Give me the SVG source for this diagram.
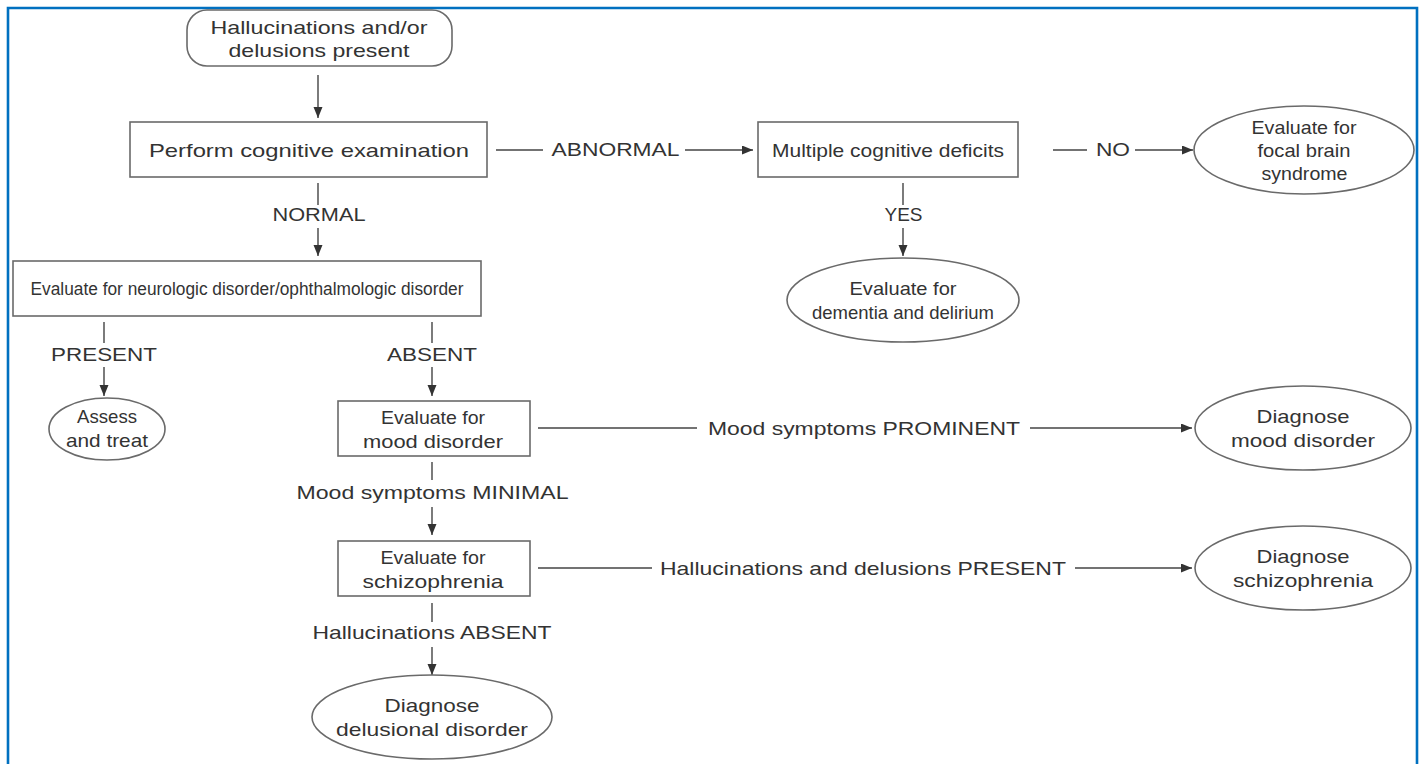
<svg xmlns="http://www.w3.org/2000/svg" width="1425" height="764" viewBox="0 0 1425 764">
<style>
.box{fill:#fff;stroke:#6a6a6a;stroke-width:1.6}
.t{font-family:"Liberation Sans",Arial,sans-serif;font-size:18.5px;fill:#333;text-anchor:middle}
.s{font-size:17.5px}
.c{stroke:#444;stroke-width:1.4;fill:none}
.a{stroke:#444;stroke-width:1.4;fill:none;marker-end:url(#ah)}
</style>
<defs>
<marker id="ah" markerUnits="userSpaceOnUse" markerWidth="12" markerHeight="10" refX="11" refY="4.5" orient="auto">
<path d="M0,0 L11,4.5 L0,9 z" fill="#333"/>
</marker>
</defs>
<rect width="1425" height="764" fill="#fff"/>
<path d="M8,764 V8 H1417 V764" fill="none" stroke="#0070c0" stroke-width="2.6"/>

<g id="connectors">
<line class="a" x1="318" y1="75" x2="318" y2="118"/>
<line class="c" x1="496" y1="150" x2="543" y2="150"/>
<line class="a" x1="685" y1="150" x2="753" y2="150"/>
<line class="c" x1="1053" y1="150" x2="1087" y2="150"/>
<line class="a" x1="1135" y1="150" x2="1193" y2="150"/>
<line class="c" x1="318" y1="183" x2="318" y2="205"/>
<line class="a" x1="318" y1="228" x2="318" y2="256"/>
<line class="c" x1="903" y1="183" x2="903" y2="205"/>
<line class="a" x1="903" y1="228" x2="903" y2="256"/>
<line class="c" x1="104" y1="322" x2="104" y2="343"/>
<line class="a" x1="104" y1="367" x2="104" y2="396"/>
<line class="c" x1="432" y1="322" x2="432" y2="343"/>
<line class="a" x1="432" y1="367" x2="432" y2="396"/>
<line class="c" x1="538" y1="428" x2="697" y2="428"/>
<line class="a" x1="1030" y1="428" x2="1192" y2="428"/>
<line class="c" x1="432" y1="462" x2="432" y2="480"/>
<line class="a" x1="432" y1="507" x2="432" y2="535"/>
<line class="c" x1="538" y1="568" x2="652" y2="568"/>
<line class="a" x1="1075" y1="568" x2="1192" y2="568"/>
<line class="c" x1="432" y1="603" x2="432" y2="622"/>
<line class="a" x1="432" y1="647" x2="432" y2="675"/>
<text class="t" x="615.5" y="156" textLength="128" lengthAdjust="spacingAndGlyphs">ABNORMAL</text>
<text class="t" x="1113" y="156" textLength="34" lengthAdjust="spacingAndGlyphs">NO</text>
<text class="t" x="319" y="220.5" textLength="93" lengthAdjust="spacingAndGlyphs">NORMAL</text>
<text class="t" x="903.5" y="220.5" textLength="38" lengthAdjust="spacingAndGlyphs">YES</text>
<text class="t" x="104" y="360.5" textLength="106" lengthAdjust="spacingAndGlyphs">PRESENT</text>
<text class="t" x="432" y="360.5" textLength="90" lengthAdjust="spacingAndGlyphs">ABSENT</text>
<text class="t" x="864" y="434.5" textLength="312" lengthAdjust="spacingAndGlyphs">Mood symptoms PROMINENT</text>
<text class="t" x="432.5" y="498.5" textLength="272" lengthAdjust="spacingAndGlyphs">Mood symptoms MINIMAL</text>
<text class="t" x="863" y="574.5" textLength="406" lengthAdjust="spacingAndGlyphs">Hallucinations and delusions PRESENT</text>
<text class="t" x="432" y="638.5" textLength="239" lengthAdjust="spacingAndGlyphs">Hallucinations ABSENT</text>
</g>

<g id="start">
<rect class="box" x="187" y="10" width="265" height="56" rx="20"/>
<text class="t" x="319" y="34" textLength="217" lengthAdjust="spacingAndGlyphs">Hallucinations and/or</text>
<text class="t" x="319" y="57" textLength="181" lengthAdjust="spacingAndGlyphs">delusions present</text>
</g>
<g id="cognitive">
<rect class="box" x="130" y="122" width="357" height="55"/>
<text class="t" x="309" y="156.5" textLength="320" lengthAdjust="spacingAndGlyphs">Perform cognitive examination</text>
</g>
<g id="multiple">
<rect class="box" x="758" y="122" width="260" height="55"/>
<text class="t" x="888" y="156.5" textLength="232" lengthAdjust="spacingAndGlyphs">Multiple cognitive deficits</text>
</g>
<g id="focal">
<ellipse class="box" cx="1304" cy="150" rx="110" ry="44"/>
<text class="t" x="1304" y="133.5" textLength="105" lengthAdjust="spacingAndGlyphs">Evaluate for</text>
<text class="t" x="1304" y="156.5" textLength="93" lengthAdjust="spacingAndGlyphs">focal brain</text>
<text class="t" x="1304.5" y="179.5" textLength="86" lengthAdjust="spacingAndGlyphs">syndrome</text>
</g>
<g id="neuro">
<rect class="box" x="13" y="261" width="468" height="55"/>
<text class="t s" x="247" y="295" textLength="433" lengthAdjust="spacingAndGlyphs">Evaluate for neurologic disorder/ophthalmologic disorder</text>
</g>
<g id="dementia">
<ellipse class="box" cx="903" cy="300" rx="116" ry="42"/>
<text class="t" x="903" y="294.5" textLength="107" lengthAdjust="spacingAndGlyphs">Evaluate for</text>
<text class="t" x="903" y="318.5">dementia and delirium</text>
</g>
<g id="assess">
<ellipse class="box" cx="107" cy="429" rx="58" ry="31"/>
<text class="t" x="107" y="422.5" textLength="60" lengthAdjust="spacingAndGlyphs">Assess</text>
<text class="t" x="107" y="446.5" textLength="82" lengthAdjust="spacingAndGlyphs">and treat</text>
</g>
<g id="mood">
<rect class="box" x="338" y="401" width="192" height="55"/>
<text class="t" x="433" y="423.5" textLength="104" lengthAdjust="spacingAndGlyphs">Evaluate for</text>
<text class="t" x="433" y="447.5" textLength="140" lengthAdjust="spacingAndGlyphs">mood disorder</text>
</g>
<g id="diag-mood">
<ellipse class="box" cx="1303" cy="428" rx="108" ry="42"/>
<text class="t" x="1303" y="422.5" textLength="93" lengthAdjust="spacingAndGlyphs">Diagnose</text>
<text class="t" x="1303" y="446.5" textLength="144" lengthAdjust="spacingAndGlyphs">mood disorder</text>
</g>
<g id="schizo">
<rect class="box" x="338" y="541" width="192" height="55"/>
<text class="t" x="433" y="563.5" textLength="105" lengthAdjust="spacingAndGlyphs">Evaluate for</text>
<text class="t" x="433" y="587.5" textLength="141" lengthAdjust="spacingAndGlyphs">schizophrenia</text>
</g>
<g id="diag-schizo">
<ellipse class="box" cx="1303" cy="568" rx="108" ry="42"/>
<text class="t" x="1303" y="562.5" textLength="93" lengthAdjust="spacingAndGlyphs">Diagnose</text>
<text class="t" x="1303" y="586.5" textLength="140" lengthAdjust="spacingAndGlyphs">schizophrenia</text>
</g>
<g id="delusional">
<ellipse class="box" cx="432" cy="717" rx="120" ry="42"/>
<text class="t" x="432" y="711.5" textLength="95" lengthAdjust="spacingAndGlyphs">Diagnose</text>
<text class="t" x="432" y="735.5" textLength="192" lengthAdjust="spacingAndGlyphs">delusional disorder</text>
</g>
</svg>
